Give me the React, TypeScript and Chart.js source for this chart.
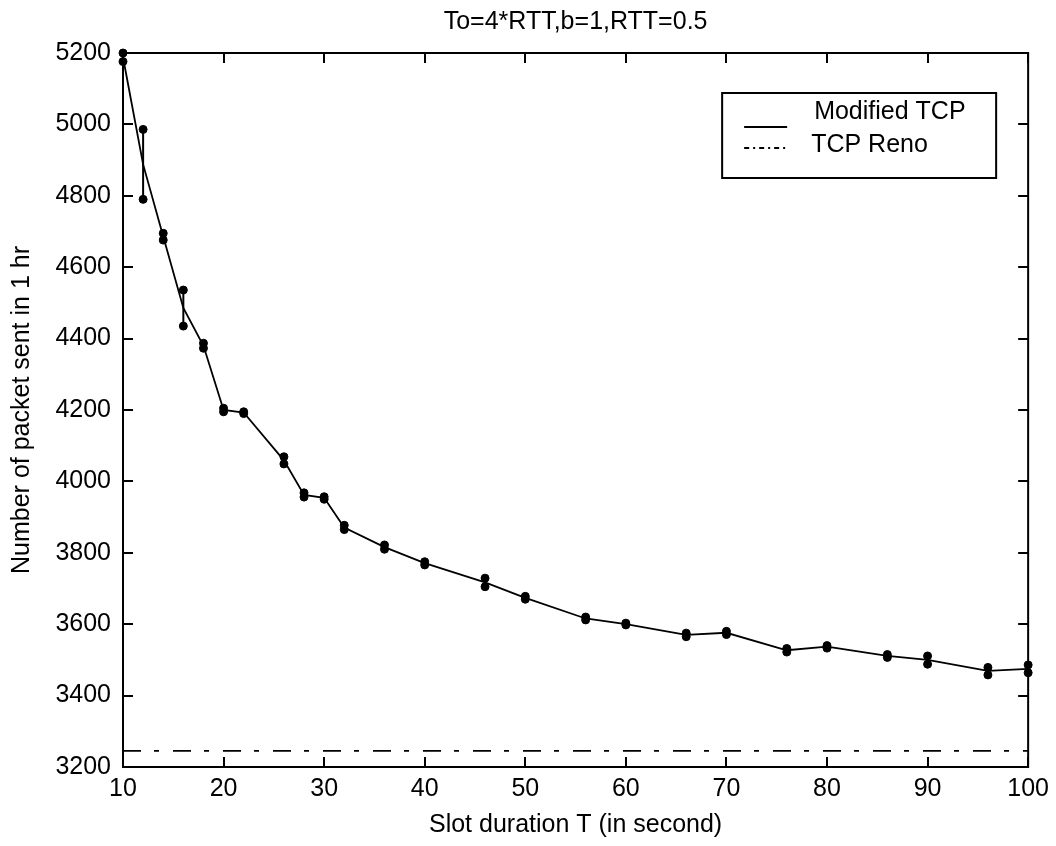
import React, { useEffect, useRef } from 'react';
import { Chart, registerables } from 'chart.js';

Chart.register(...registerables);

const TITLE = 'To=4*RTT,b=1,RTT=0.5';
const X_LABEL = 'Slot duration T (in second)';
const Y_LABEL = 'Number of packet sent in 1 hr';
const SERIES_NAMES = ['Modified TCP', 'TCP Reno'];

const slotDurations = [10, 12, 14, 16, 18, 20, 22, 26, 28, 30, 32, 36, 40, 46, 50, 56, 60, 66, 70, 76, 80, 86, 90, 96, 100];
const upperValues = [5200, 4986, 4695, 4536, 4387, 4205, 4195, 4069, 3968, 3957, 3877, 3822, 3775, 3729, 3678, 3620, 3603, 3575, 3580, 3532, 3540, 3515, 3511, 3479, 3486];
const lowerValues = [5176, 4790, 4676, 4435, 4373, 4195, 4190, 4049, 3956, 3950, 3865, 3810, 3766, 3705, 3670, 3612, 3598, 3565, 3571, 3522, 3533, 3507, 3488, 3458, 3464];
const meanValues = [5188, 4888, 4686, 4486, 4380, 4200, 4193, 4059, 3962, 3954, 3871, 3816, 3771, 3717, 3674, 3616, 3600, 3570, 3576, 3527, 3537, 3511, 3500, 3469, 3475];
const renoXs = [10, 100];
const renoValues = [3245, 3245];

const X_TICKS = [10, 20, 30, 40, 50, 60, 70, 80, 90, 100];
const Y_TICKS = [3200, 3400, 3600, 3800, 4000, 4200, 4400, 4600, 4800, 5000, 5200];

const FONT_FAMILY = '"Liberation Sans", Arial, sans-serif';
const FONT_SIZE = 25;
const RENO_DASH = [18, 13, 5, 14];

const framePlugin = {
  id: 'frameTicks',
  beforeDatasetsDraw(chart: any) {
    const { ctx, chartArea: a, scales } = chart;
    ctx.save();
    ctx.strokeStyle = '#000';
    ctx.lineWidth = 2;
    ctx.strokeRect(a.left, a.top, a.right - a.left, a.bottom - a.top);
    ctx.beginPath();
    const len = 10;
    for (const v of X_TICKS) {
      const px = Math.round(scales.x.getPixelForValue(v));
      ctx.moveTo(px, a.bottom);
      ctx.lineTo(px, a.bottom - len);
      ctx.moveTo(px, a.top);
      ctx.lineTo(px, a.top + len);
    }
    for (const v of Y_TICKS) {
      const py = Math.round(scales.y.getPixelForValue(v));
      ctx.moveTo(a.left, py);
      ctx.lineTo(a.left + len, py);
      ctx.moveTo(a.right, py);
      ctx.lineTo(a.right - len, py);
    }
    ctx.stroke();
    ctx.restore();
  },
  afterDraw(chart: any) {
    const { ctx, chartArea: a } = chart;
    ctx.save();
    const boxRight = a.right - 32;
    const boxLeft = boxRight - 274;
    const boxTop = a.top + 40;
    const boxH = 85;
    ctx.fillStyle = '#fff';
    ctx.fillRect(boxLeft, boxTop, boxRight - boxLeft, boxH);
    ctx.strokeStyle = '#000';
    ctx.lineWidth = 2;
    ctx.strokeRect(boxLeft, boxTop, boxRight - boxLeft, boxH);

    // Modified TCP entry
    ctx.lineWidth = 2;
    ctx.beginPath();
    ctx.moveTo(boxLeft + 22, boxTop + 34);
    ctx.lineTo(boxLeft + 65, boxTop + 34);
    ctx.stroke();
    // TCP Reno entry
    ctx.setLineDash([5, 4, 2, 4]);
    ctx.lineWidth = 2;
    ctx.beginPath();
    ctx.moveTo(boxLeft + 22, boxTop + 55);
    ctx.lineTo(boxLeft + 67, boxTop + 55);
    ctx.stroke();
    ctx.setLineDash([]);

    ctx.fillStyle = '#000';
    ctx.font = `${FONT_SIZE}px ${FONT_FAMILY}`;
    ctx.textAlign = 'left';
    ctx.textBaseline = 'middle';
    ctx.fillText(SERIES_NAMES[0], boxLeft + 92, boxTop + 19);
    ctx.fillText(SERIES_NAMES[1], boxLeft + 89, boxTop + 52);
    ctx.restore();
  },
};

export default function App() {
  const canvasRef = useRef<HTMLCanvasElement | null>(null);

  useEffect(() => {
    document.body.style.margin = '0';
    const canvas = canvasRef.current;
    if (!canvas) return;

    const meanData = slotDurations.map((x, i) => ({ x, y: meanValues[i] }));
    const barData: any[] = [];
    slotDurations.forEach((x, i) => {
      barData.push({ x, y: lowerValues[i] });
      barData.push({ x, y: upperValues[i] });
      barData.push({ x, y: null });
    });
    const renoData = renoXs.map((x, i) => ({ x, y: renoValues[i] }));

    const font = { family: FONT_FAMILY, size: FONT_SIZE };

    const chart = new Chart(canvas, {
      type: 'line',
      data: {
        datasets: [
          {
            label: SERIES_NAMES[0],
            data: meanData,
            borderColor: '#000',
            borderWidth: 1.8,
            pointRadius: 0,
            tension: 0,
            clip: false,
          },
          {
            label: SERIES_NAMES[0] + ' range',
            data: barData,
            borderColor: '#000',
            borderWidth: 2,
            pointRadius: 4,
            pointBackgroundColor: '#000',
            pointBorderColor: '#000',
            pointBorderWidth: 1,
            spanGaps: false,
            tension: 0,
            clip: false,
          },
          {
            label: SERIES_NAMES[1],
            data: renoData,
            borderColor: '#000',
            borderWidth: 1.8,
            borderDash: RENO_DASH,
            pointRadius: 0,
            clip: false,
          },
        ],
      },
      options: {
        animation: false,
        responsive: true,
        maintainAspectRatio: false,
        layout: { padding: { left: 0, right: 27, top: 0, bottom: 0 } },
        plugins: {
          legend: { display: false },
          tooltip: { enabled: false },
          title: {
            display: true,
            text: TITLE,
            color: '#000',
            font: { ...font, weight: 'normal' },
            padding: { top: 7, bottom: 16 },
            fullSize: false,
          },
        },
        scales: {
          x: {
            type: 'linear',
            min: 10,
            max: 100,
            afterFit: (s: any) => {
              s.height = 79;
            },
            afterBuildTicks: (s: any) => {
              s.ticks = X_TICKS.map((v) => ({ value: v }));
            },
            ticks: { color: '#000', font, padding: 7, autoSkip: false, maxRotation: 0, callback: (v: any) => String(v) },
            grid: { display: false, drawTicks: false },
            border: { display: false },
            title: { display: true, text: X_LABEL, color: '#000', font, padding: { top: 0, bottom: 6 } },
          },
          y: {
            type: 'linear',
            min: 3200,
            max: 5200,
            afterFit: (s: any) => {
              s.width = 123;
            },
            afterBuildTicks: (s: any) => {
              s.ticks = Y_TICKS.map((v) => ({ value: v }));
            },
            ticks: { color: '#000', font, padding: 12, autoSkip: false, callback: (v: any) => String(v) },
            grid: { display: false, drawTicks: false },
            border: { display: false },
            title: { display: true, text: Y_LABEL, color: '#000', font, padding: { top: 7, bottom: 0 } },
          },
        },
      },
      plugins: [framePlugin],
    });

    return () => chart.destroy();
  }, []);

  return (
    <div style={{ position: 'relative', width: '1056px', height: '846px', background: '#fff' }}>
      <canvas ref={canvasRef} />
    </div>
  );
}
